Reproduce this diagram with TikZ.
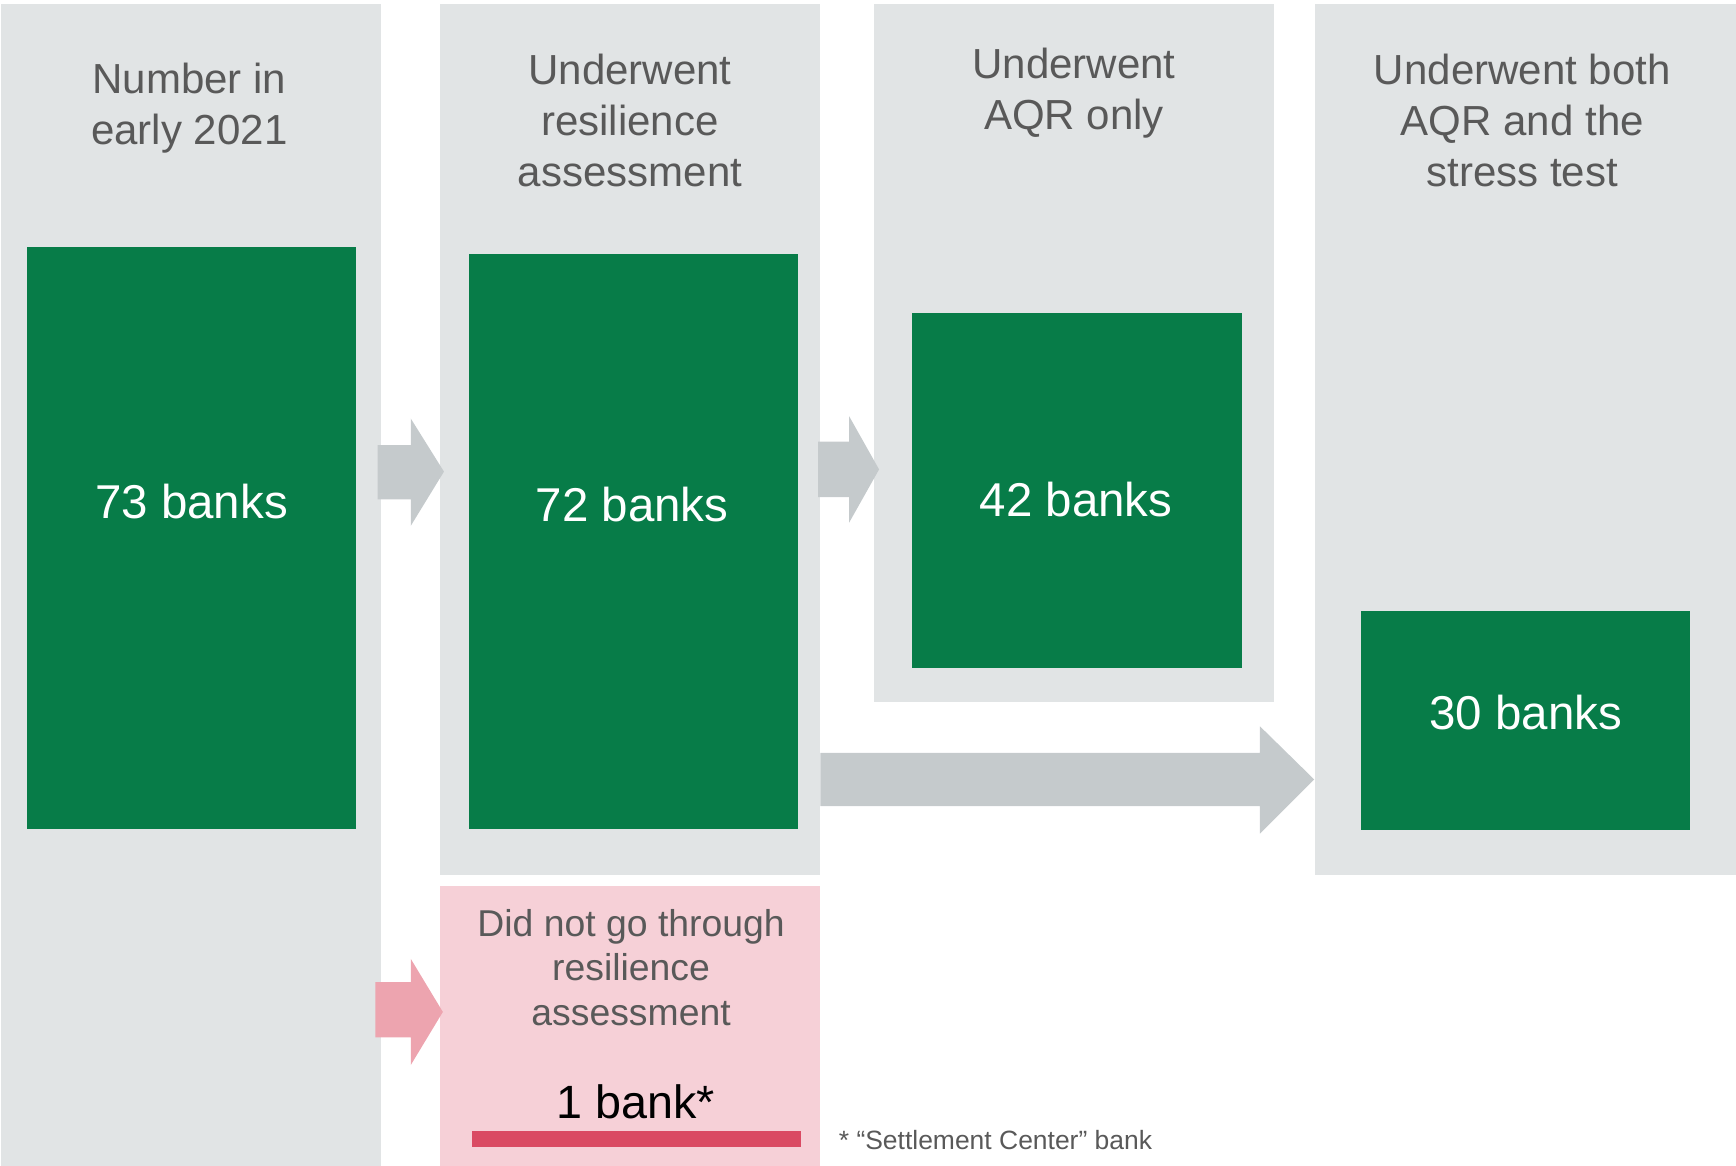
\documentclass[tikz,border=0pt]{standalone}
\usepackage{fontspec}
\setmainfont{Liberation Sans}
\usetikzlibrary{positioning}

\definecolor{panelgray}{HTML}{E1E4E5}
\definecolor{bankgreen}{HTML}{077C48}
\definecolor{arrowgray}{HTML}{C5CACC}
\definecolor{panelpink}{HTML}{F6D0D7}
\definecolor{arrowpink}{HTML}{EDA4AF}
\definecolor{barred}{HTML}{DA4A63}
\definecolor{textgray}{HTML}{595959}

\tikzset{
    panel/.style={fill=panelgray, inner sep=0, anchor=north west},
    greenbox/.style={fill=bankgreen, inner sep=0, anchor=north west},
    count/.style={text=white, inner sep=0, font=\fontsize{12.2}{14}\selectfont},
    heading/.style={text=textgray, align=center, inner sep=0, font=\fontsize{10.8}{13.1}\selectfont},
}

\begin{document}
\begin{tikzpicture}[x=0.1mm, y=-0.1mm]

    \useasboundingbox (0,0) rectangle (1568,1053);

    % panels
    \node[panel, minimum width=34.3mm, minimum height=105mm] (col1) at (0,3) {};
    \node[panel, minimum width=34.3mm, minimum height=78.7mm] (col2) at (397,3) {};
    \node[panel, minimum width=36.1mm, minimum height=63mm] (col3) at (789,3) {};
    \node[panel, minimum width=38.1mm, minimum height=78.7mm] (col4) at (1187,3) {};
    \node[panel, fill=panelpink, minimum width=34.3mm, minimum height=25.3mm] (pink) at (397,800) {};

    % headings
    \node[heading] (h1) at (171,98) {Number in\\early 2021};
    \node[heading] (h2) at (569,109) {Underwent\\resilience\\assessment};
    \node[heading] (h3) at (970,84) {Underwent\\AQR only};
    \node[heading] (h4) at (1375,109) {Underwent both\\AQR and the\\stress test};

    % green boxes
    \node[greenbox, minimum width=29.7mm, minimum height=52.6mm] (b73) at (24,222) {};
    \node[greenbox, minimum width=29.7mm, minimum height=51.9mm] (b72) at (423,229) {};
    \node[greenbox, minimum width=29.8mm, minimum height=32.1mm] (b42) at (823,282) {};
    \node[greenbox, minimum width=29.7mm, minimum height=19.8mm] (b30) at (1229,551) {};

    \node[count] (n73) at (173,453) {73 banks};
    \node[count] (n72) at (571,456) {72 banks};
    \node[count] (n42) at (972,451) {42 banks};
    \node[count] (n30) at (1378,644) {30 banks};

    % arrows
    \fill[arrowgray] (341,402) -- (371,402) -- (371,378) -- (401,426) -- (371,475) -- (371,451) -- (341,451) -- cycle;
    \fill[arrowgray] (739,399) -- (767,399) -- (767,376) -- (794,424) -- (767,472) -- (767,449) -- (739,449) -- cycle;
    \fill[arrowgray] (741,680) -- (1138,680) -- (1138,656) -- (1187,704) -- (1138,753) -- (1138,728) -- (741,728) -- cycle;
    \fill[arrowpink] (339,887) -- (371,887) -- (371,866) -- (400,914) -- (371,962) -- (371,937) -- (339,937) -- cycle;

    % pink box
    \node[heading, font=\fontsize{9.6}{11.4}\selectfont] (h5) at (570,874) {Did not go through\\resilience\\assessment};
    \node[inner sep=0, font=\fontsize{12}{14}\selectfont] (n1) at (574,995) {1 bank*};
    \node[greenbox, fill=barred, minimum width=29.7mm, minimum height=1.4mm] (bar) at (426,1021) {};

    \node[anchor=west, inner sep=0, text=textgray, font=\fontsize{6.8}{8}\selectfont] (note) at (757,1030) {* “Settlement Center” bank};

\end{tikzpicture}
\end{document}
